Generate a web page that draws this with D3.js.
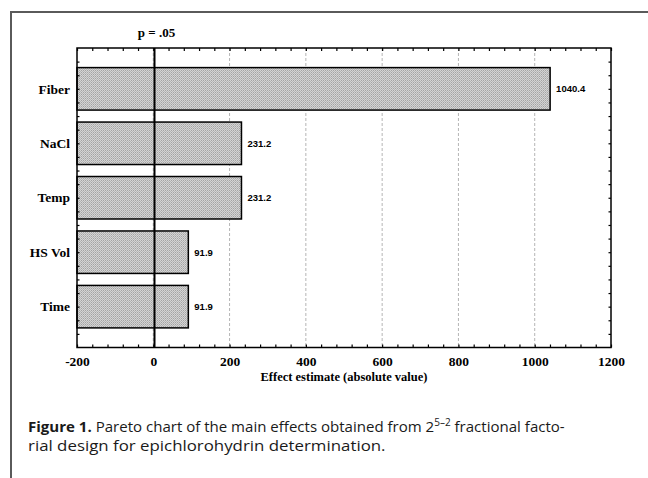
<!DOCTYPE html>
<html>
<head>
<meta charset="utf-8">
<script src="https://cdn.jsdelivr.net/npm/d3@7"></script>
<style>
  body { margin: 0; background: #fff; }
</style>
</head>
<body>
<script>
// data
var factors = ['Fiber', 'NaCl', 'Temp', 'HS Vol', 'Time'];
var effects = [1040.4, 231.2, 231.2, 91.9, 91.9];
var xTickLabels = [-200, 0, 200, 400, 600, 800, 1000, 1200];
var pValue = 3.2;

var W = 648, H = 478;
var margin = { top: 48, right: 37, bottom: 130.5, left: 77 };
var width = W - margin.left - margin.right,
    height = H - margin.top - margin.bottom;

var serif = '"Liberation Serif", "Times New Roman", serif';
var sans = '"Liberation Sans", Arial, sans-serif';

var svg = d3.select('body').append('svg')
  .attr('width', W)
  .attr('height', H);

// stippled fill for the bars
var pat = svg.append('defs').append('pattern')
  .attr('id', 'stipple')
  .attr('patternUnits', 'userSpaceOnUse')
  .attr('width', 2).attr('height', 2);
pat.append('rect').attr('width', 2).attr('height', 2).attr('fill', '#d4d4d4');
pat.append('rect').attr('width', 1).attr('height', 1).attr('fill', '#a4a4a4');
pat.append('rect').attr('x', 1).attr('y', 1).attr('width', 1).attr('height', 1).attr('fill', '#b6b6b6');

// outer figure frame (top and left)
svg.append('path')
  .attr('d', 'M11,478V12H648')
  .attr('fill', 'none')
  .attr('stroke', '#5a5a5a')
  .attr('stroke-width', 2);

var g = svg.append('g')
  .attr('transform', 'translate(' + margin.left + ',' + margin.top + ')');

var x = d3.scaleLinear().domain([-200, 1200]).range([0, width]);
var y = d3.scaleBand().domain(factors).range([0, height])
  .paddingInner(0.22).paddingOuter(0.36);
// quarter-category steps for the small side ticks
var yq = d3.scaleLinear().domain([0, 22]).range([0, height]);

// dashed grid
g.selectAll('.grid')
  .data(xTickLabels.filter(function (d) { return d > -200 && d < 1200; }))
  .enter().append('line')
  .attr('class', 'grid')
  .attr('x1', function (d) { return x(d); })
  .attr('x2', function (d) { return x(d); })
  .attr('y1', 0).attr('y2', height)
  .attr('stroke', '#b5b5b5')
  .attr('stroke-width', 1)
  .attr('stroke-dasharray', '3,2');

// bars
g.selectAll('.bar')
  .data(effects)
  .enter().append('rect')
  .attr('class', 'bar')
  .attr('x', x(-200))
  .attr('y', function (d, i) { return y(factors[i]); })
  .attr('width', function (d) { return x(d) - x(-200); })
  .attr('height', y.bandwidth())
  .attr('fill', 'url(#stipple)')
  .attr('stroke', '#000')
  .attr('stroke-width', 1.5);

// value labels
g.selectAll('.val')
  .data(effects)
  .enter().append('text')
  .attr('class', 'val')
  .attr('x', function (d) { return x(d) + 6; })
  .attr('y', function (d, i) { return y(factors[i]) + y.bandwidth() / 2; })
  .attr('dy', '0.35em')
  .attr('font-family', sans)
  .attr('font-weight', 'bold')
  .attr('font-size', 9.5)
  .text(function (d) { return d3.format('.1f')(d); });

// p = .05 line
g.append('line')
  .attr('x1', x(pValue)).attr('x2', x(pValue))
  .attr('y1', 0).attr('y2', height)
  .attr('stroke', '#000')
  .attr('stroke-width', 2);

g.append('text')
  .attr('x', x(pValue) + 2)
  .attr('y', -11)
  .attr('text-anchor', 'middle')
  .attr('font-family', serif)
  .attr('font-weight', 'bold')
  .attr('font-size', 13)
  .text('p = .05');

// category labels
g.selectAll('.cat')
  .data(factors)
  .enter().append('text')
  .attr('class', 'cat')
  .attr('x', -7)
  .attr('y', function (d) { return y(d) + y.bandwidth() / 2; })
  .attr('dy', '0.35em')
  .attr('text-anchor', 'end')
  .attr('font-family', serif)
  .attr('font-weight', 'bold')
  .attr('font-size', 13.5)
  .text(function (d) { return d; });

// axes with inward ticks
var minorX = d3.range(-200, 1201, 40);
var xAxis = d3.axisBottom(x).tickValues(minorX).tickSize(-3).tickPadding(9)
  .tickFormat(function (d) { return d % 200 === 0 ? d : ''; });
var xAxisTop = d3.axisTop(x).tickValues(minorX).tickSize(-3).tickFormat('');
var yAxisL = d3.axisLeft(yq).tickValues(d3.range(1, 22)).tickSize(-2.5).tickFormat('');
var yAxisR = d3.axisRight(yq).tickValues(d3.range(1, 22)).tickSize(-2.5).tickFormat('');

var bx = g.append('g').attr('transform', 'translate(0,' + height + ')').call(xAxis);
g.append('g').call(xAxisTop);
g.append('g').call(yAxisL);
g.append('g').attr('transform', 'translate(' + width + ',0)').call(yAxisR);

g.selectAll('.domain').remove();
g.selectAll('.tick line').attr('stroke', '#000').attr('stroke-width', 1.2);
bx.selectAll('text')
  .attr('font-family', serif)
  .attr('font-weight', 'bold')
  .attr('font-size', 13.5)
  .attr('fill', '#000');

// plot frame
g.append('rect')
  .attr('width', width).attr('height', height)
  .attr('fill', 'none')
  .attr('stroke', '#000')
  .attr('stroke-width', 1.5);

g.append('text')
  .attr('x', width / 2)
  .attr('y', height + 33)
  .attr('text-anchor', 'middle')
  .attr('font-family', serif)
  .attr('font-weight', 'bold')
  .attr('font-size', 12.5)
  .text('Effect estimate (absolute value)');

// caption: natural layout, then squeezed horizontally to the reference width
function fitLine(sel, x0, y0, targetWidth) {
  var w = sel.node().getComputedTextLength();
  sel.attr('transform', 'translate(' + x0 + ',' + y0 + ') scale(' + (targetWidth / w) + ',1)');
}

var cap = svg.append('g')
  .attr('font-family', '"Open Sans", sans-serif')
  .attr('font-size', 15)
  .attr('fill', '#1a1a1a');

var line1 = cap.append('text');
line1.append('tspan').attr('font-weight', 'bold').text('Figure 1.');
line1.append('tspan').text(' Pareto chart of the main effects obtained from 2');
line1.append('tspan').attr('font-size', 10).attr('dy', -6).text('5\u20132');
line1.append('tspan').attr('dy', 6).text(' fractional facto-');
fitLine(line1, 28, 431.5, 537);

var line2 = cap.append('text')
  .text('rial design for epichlorohydrin determination.');
fitLine(line2, 28, 451, 358);
</script>
</body>
</html>
